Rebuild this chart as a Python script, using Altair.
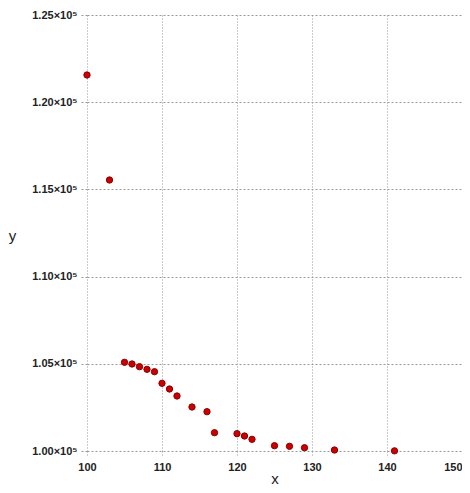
import altair as alt
import pandas as pd

xs = [100, 103, 105, 106, 107, 108, 109, 110, 111, 112, 114, 116, 117, 120, 121, 122, 125, 127, 129, 133, 141]
ys = [121560, 115540, 105086, 104989, 104834, 104685, 104547, 103882, 103555, 103154, 102523, 102253,
      101049, 100992, 100860, 100671, 100304, 100270, 100189, 100057, 100010]
x_ticks = [100, 110, 120, 130, 140, 150]
y_ticks = [100000, 105000, 110000, 115000, 120000, 125000]

df = pd.DataFrame({"x": xs, "y": ys})

common = dict(grid=True, gridColor="#999999", gridWidth=1,
              tickColor="#999999", tickSize=6, domain=False,
              labelFont="Liberation Sans", labelFontWeight="bold", labelFontSize=11,
              labelColor="#222222", titleFont="Liberation Sans", titleFontSize=15,
              titleFontWeight="normal", titleColor="#222222")

chart = alt.Chart(df).mark_point(filled=True, size=40, color="#cc0000",
                                 stroke="#880000", strokeWidth=1, opacity=1).encode(
    x=alt.X("x:Q", scale=alt.Scale(domain=[100, 150], nice=False, zero=False),
            axis=alt.Axis(values=x_ticks, labelPadding=4, titleY=32, titleBaseline="alphabetic",
                          labelAlign=alt.ConditionalAxisLabelAlign(
                              condition={"test": "datum.value >= 150", "value": "right"},
                              value="center"),
                          gridDash=[1, 2], tickDash=[1, 2], **common)),
    y=alt.Y("y:Q", scale=alt.Scale(domain=[100000, 125000], nice=False, zero=False),
            axis=alt.Axis(values=y_ticks, labelPadding=4, titleAngle=0, titleX=-75, titleY=220,
                          titleAlign="center", titleBaseline="middle",
                          gridDash=[2, 2], tickDash=[2, 2],
                          labelExpr="format(datum.value/100000, '.2f') + '×10⁵'", **common)),
).properties(
    width=375, height=436,
    autosize=alt.AutoSizeParams(type="none"),
    padding={"left": 79, "top": 7, "right": 0, "bottom": 34},
).configure_view(stroke=None)

chart.save("out.html", embed_options={"renderer": "svg", "actions": False})
